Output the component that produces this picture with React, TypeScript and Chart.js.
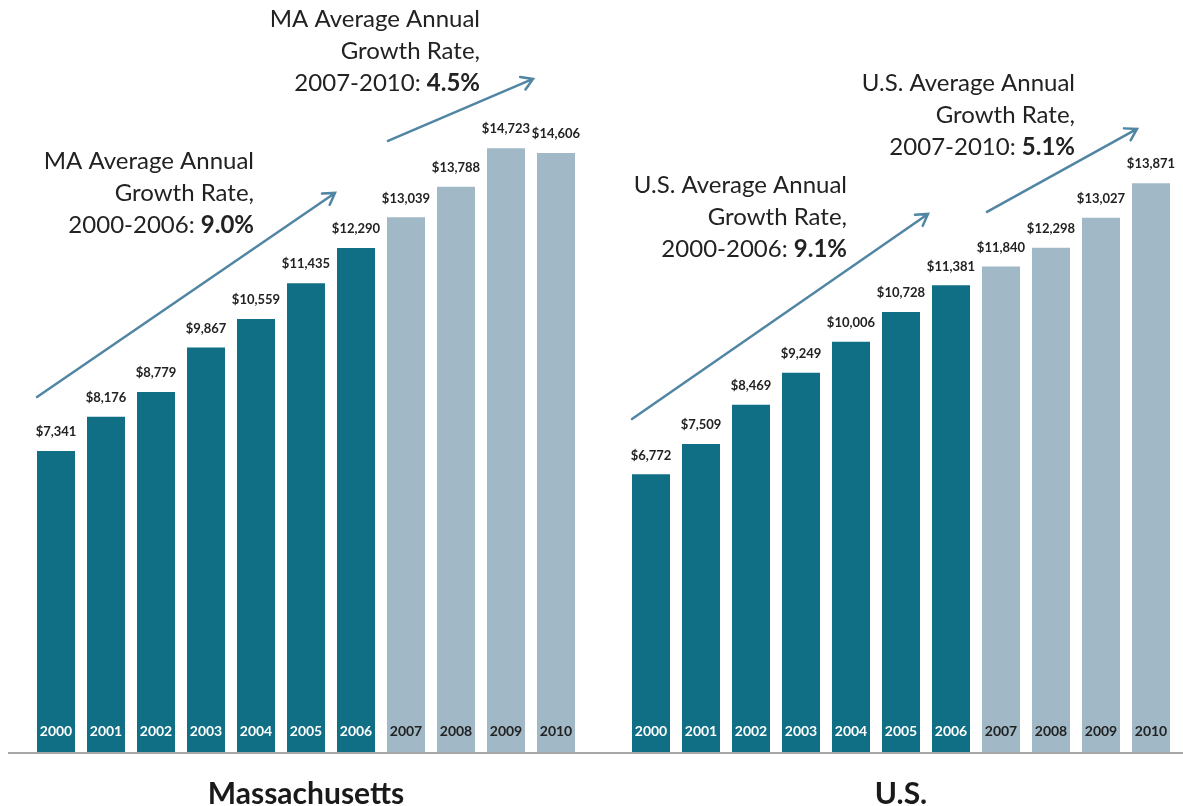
import React, { useEffect, useRef } from "react";
import { Chart, registerables } from "chart.js";

Chart.register(...registerables);

const years = ["2000", "2001", "2002", "2003", "2004", "2005", "2006", "2007", "2008", "2009", "2010"];
const maValues = [7341, 8176, 8779, 9867, 10559, 11435, 12290, 13039, 13788, 14723, 14606];
const usValues = [6772, 7509, 8469, 9249, 10006, 10728, 11381, 11840, 12298, 13027, 13871];
const regionLabels = ["Massachusetts", "U.S."];
const usOffset = 11.9;
const firstLaterPeriodIndex = 7;

const DARK = "#106f84";
const LIGHT = "#a1b8c7";
const ARROW = "#5085a3";
const FONT = "Lato, 'Open Sans', sans-serif";

// annotations anchored in data coordinates (x = bar index units, y = dollars)
const annotations = [
  { lines: ["MA Average Annual", "Growth Rate,", "2000-2006: "], bold: "9.0%", x: 3.96, y: 14415 },
  { lines: ["MA Average Annual", "Growth Rate,", "2007-2010: "], bold: "4.5%", x: 8.48, y: 17878 },
  { lines: ["U.S. Average Annual", "Growth Rate,", "2000-2006: "], bold: "9.1%", x: 15.82, y: 13830 },
  { lines: ["U.S. Average Annual", "Growth Rate,", "2007-2010: "], bold: "5.1%", x: 20.38, y: 16317 },
];
const arrows = [
  { x1: -0.38, y1: 8659, x2: 5.58, y2: 13634 },
  { x1: 6.64, y1: 14902, x2: 9.54, y2: 16415 },
  { x1: 11.52, y1: 8122, x2: 17.44, y2: 13122 },
  { x1: 18.62, y1: 13171, x2: 21.62, y2: 15195 },
];

const fmt = (v: number) => "$" + v.toLocaleString("en-US");

const overlayPlugin = {
  id: "overlay",
  afterDatasetsDraw(chart: any) {
    const ctx = chart.ctx;
    const xs = chart.scales.x;
    const ys = chart.scales.y;
    ctx.save();
    chart.data.datasets.forEach((ds: any, di: number) => {
      const meta = chart.getDatasetMeta(di);
      meta.data.forEach((bar: any, i: number) => {
        const v = ds.data[i].y;
        ctx.textAlign = "center";
        ctx.textBaseline = "middle";
        ctx.fillStyle = "#222";
        ctx.font = `bold 13px ${FONT}`;
        ctx.fillText(fmt(v), bar.x, bar.y - 19);
        ctx.font = `bold 14px ${FONT}`;
        ctx.fillStyle = i < firstLaterPeriodIndex ? "#ffffff" : "#222";
        ctx.fillText(years[i], bar.x, bar.base - 21);
      });
    });
    const base = ys.getPixelForValue(0);
    ctx.strokeStyle = "#a6a6a6";
    ctx.lineWidth = 2;
    ctx.beginPath();
    ctx.moveTo(8, base + 1);
    ctx.lineTo(chart.width, base + 1);
    ctx.stroke();

    // region titles
    ctx.fillStyle = "#1a1a1a";
    ctx.font = `bold 30px ${FONT}`;
    ctx.textAlign = "center";
    ctx.textBaseline = "middle";
    const centers = [xs.getPixelForValue(5), xs.getPixelForValue(usOffset + 5)];
    regionLabels.forEach((t, i) => ctx.fillText(t, centers[i], base + 42));

    // annotations
    annotations.forEach((a) => {
      const rx = xs.getPixelForValue(a.x);
      const ty = ys.getPixelForValue(a.y);
      a.lines.forEach((ln, li) => {
        const y = ty + li * 32;
        ctx.textAlign = "right";
        ctx.textBaseline = "middle";
        ctx.fillStyle = "#222";
        if (li === a.lines.length - 1) {
          ctx.font = `bold 24px ${FONT}`;
          const bw = ctx.measureText(a.bold).width;
          ctx.fillText(a.bold, rx, y);
          ctx.font = `24px ${FONT}`;
          ctx.fillText(ln, rx - bw, y);
        } else {
          ctx.font = `24px ${FONT}`;
          ctx.fillText(ln, rx, y);
        }
      });
    });

    // arrows
    ctx.strokeStyle = ARROW;
    ctx.lineWidth = 2.5;
    ctx.lineCap = "round";
    arrows.forEach((a) => {
      const x1 = xs.getPixelForValue(a.x1);
      const y1 = ys.getPixelForValue(a.y1);
      const x2 = xs.getPixelForValue(a.x2);
      const y2 = ys.getPixelForValue(a.y2);
      const ang = Math.atan2(y2 - y1, x2 - x1);
      const h = 13;
      ctx.beginPath();
      ctx.moveTo(x1, y1);
      ctx.lineTo(x2, y2);
      ctx.moveTo(x2 - h * Math.cos(ang - 0.55), y2 - h * Math.sin(ang - 0.55));
      ctx.lineTo(x2, y2);
      ctx.lineTo(x2 - h * Math.cos(ang + 0.55), y2 - h * Math.sin(ang + 0.55));
      ctx.stroke();
    });
    ctx.restore();
  },
};

export default function App() {
  const ref = useRef<HTMLCanvasElement>(null);
  useEffect(() => {
    if (!ref.current) return;
    const colors = years.map((_, i) => (i < firstLaterPeriodIndex ? DARK : LIGHT));
    const chart = new Chart(ref.current, {
      type: "bar",
      data: {
        datasets: [
          {
            label: regionLabels[0],
            data: maValues.map((v, i) => ({ x: i, y: v })),
            backgroundColor: colors,
            grouped: false,
            barPercentage: 0.76,
            categoryPercentage: 1,
          } as any,
          {
            label: regionLabels[1],
            data: usValues.map((v, i) => ({ x: i + usOffset, y: v })),
            backgroundColor: colors,
            grouped: false,
            barPercentage: 0.76,
            categoryPercentage: 1,
          } as any,
        ],
      },
      options: {
        animation: false,
        responsive: false,
        layout: { padding: { left: 0, right: 0, top: 0, bottom: 54 } },
        plugins: { legend: { display: false }, tooltip: { enabled: false } },
        scales: {
          x: { type: "linear", min: -1.12, max: 22.54, offset: false, display: false },
          y: { min: 0, max: 18340, display: false },
        },
      },
      plugins: [overlayPlugin],
    });
    return () => chart.destroy();
  }, []);
  return (
    <div style={{ position: "absolute", left: 0, top: 0, width: 1183, height: 806, background: "#fff" }}>
      <canvas ref={ref} width={1183} height={806} style={{ width: 1183, height: 806 }} />
    </div>
  );
}
